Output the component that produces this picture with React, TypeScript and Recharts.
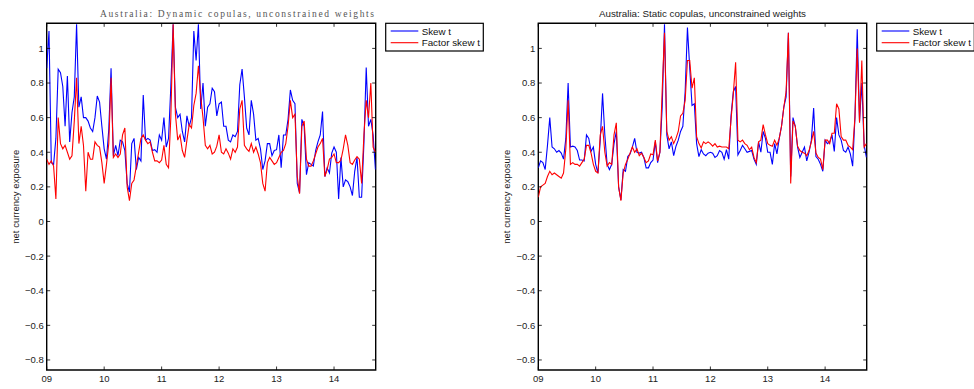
import { LineChart, Line, XAxis, YAxis, ReferenceArea } from 'recharts';

// time grid: 2-week steps starting Jan 2009
const START_YEAR = 2009;
const STEP = 0.04;
const X_MIN = 2009;
const X_MAX = 2014.725;
const Y_MIN = -0.858;
const Y_MAX = 1.145;

const yearTicks = [2009, 2010, 2011, 2012, 2013, 2014];
const yearLabels = ['09', '10', '11', '12', '13', '14'];
const yTicks = [-0.8, -0.6, -0.4, -0.2, 0, 0.2, 0.4, 0.6, 0.8, 1];

const seriesNames = ['Skew t', 'Factor skew t'];
const seriesColors = ['#0000ff', '#ff0000'];

const dynamicSkewT = [
  0.885, 1.1, 0.34, 0.33, 0.48, 0.88, 0.86, 0.78, 0.55, 0.84, 0.46, 0.63, 0.72, 1.14, 0.66, 0.72, 0.6, 0.6, 0.58, 0.54,
  0.52, 0.6, 0.725, 0.69, 0.55, 0.42, 0.36, 0.53, 0.885, 0.38, 0.44, 0.38, 0.47, 0.46, 0.41, 0.22, 0.17, 0.45, 0.48, 0.3,
  0.37, 0.35, 0.73, 0.47, 0.48, 0.47, 0.41, 0.415, 0.4, 0.5, 0.47, 0.6, 0.43, 0.48, 0.78, 1.14, 0.66, 0.6, 0.62, 0.52,
  0.46, 0.61, 0.55, 0.6, 1.1, 0.93, 1.14, 0.65, 0.8, 0.55, 0.66, 0.68, 0.77, 0.75, 0.61, 0.68, 0.69, 0.55, 0.55, 0.47,
  0.46, 0.5, 0.49, 0.52, 0.79, 0.88, 0.72, 0.54, 0.5, 0.7, 0.62, 0.47, 0.48, 0.42, 0.3, 0.35, 0.45, 0.45, 0.38, 0.41,
  0.415, 0.5, 0.31, 0.5, 0.5, 0.59, 0.76, 0.7, 0.68, 0.22, 0.165, 0.59, 0.55, 0.27, 0.34, 0.33, 0.32, 0.41, 0.46, 0.5,
  0.635, 0.26, 0.31, 0.28, 0.395, 0.43, 0.4, 0.13, 0.37, 0.2, 0.24, 0.23, 0.2, 0.15, 0.29, 0.37, 0.14, 0.14, 0.45, 0.89,
  0.55, 0.59, 0.5, 0.3,
];

const dynamicFactorSkewT = [
  0.36, 0.33, 0.35, 0.32, 0.13, 0.6, 0.45, 0.42, 0.44, 0.4, 0.36, 0.38, 0.58, 0.83, 0.45, 0.55, 0.44, 0.175, 0.4, 0.36,
  0.36, 0.46, 0.44, 0.43, 0.34, 0.22, 0.33, 0.45, 0.83, 0.37, 0.39, 0.37, 0.39, 0.5, 0.54, 0.2, 0.12, 0.22, 0.24, 0.32,
  0.4, 0.48, 0.5, 0.47, 0.45, 0.46, 0.4, 0.35, 0.35, 0.34, 0.355, 0.44, 0.33, 0.31, 0.6, 1.14, 0.62, 0.47, 0.5, 0.41,
  0.37, 0.47, 0.56, 0.54, 0.67, 0.74, 0.9, 0.72, 0.6, 0.44, 0.42, 0.44, 0.39, 0.4, 0.435, 0.5, 0.4, 0.39, 0.42, 0.395,
  0.36, 0.42, 0.4, 0.43, 0.65, 0.7, 0.44, 0.42, 0.405, 0.45, 0.4, 0.43, 0.39, 0.34, 0.22, 0.175, 0.34, 0.37, 0.35, 0.33,
  0.34, 0.37, 0.4, 0.41, 0.45, 0.55, 0.7, 0.6, 0.62, 0.26, 0.16, 0.55, 0.58, 0.36, 0.32, 0.32, 0.35, 0.39, 0.43, 0.45,
  0.48, 0.26, 0.3, 0.36, 0.37, 0.39, 0.34, 0.34, 0.355, 0.42, 0.5, 0.44, 0.34, 0.33, 0.355, 0.375, 0.36, 0.22, 0.5, 0.7,
  0.6, 0.8, 0.43, 0.4,
];

const staticSkewT = [
  0.31, 0.35, 0.34, 0.3, 0.44, 0.6, 0.43, 0.42, 0.4, 0.41, 0.395, 0.36, 0.48, 0.8, 0.43, 0.435, 0.43, 0.41, 0.355, 0.355,
  0.35, 0.5, 0.48, 0.405, 0.43, 0.33, 0.28, 0.47, 0.74, 0.5, 0.33, 0.3, 0.33, 0.45, 0.52, 0.2, 0.125, 0.3, 0.29, 0.375,
  0.39, 0.43, 0.48, 0.4, 0.395, 0.4, 0.37, 0.31, 0.31, 0.34, 0.355, 0.46, 0.34, 0.4, 0.66, 1.14, 0.5, 0.42, 0.46, 0.38,
  0.435, 0.47, 0.52, 0.55, 0.75, 1.12, 0.885, 0.67, 0.68, 0.45, 0.375, 0.415, 0.39, 0.38, 0.395, 0.4, 0.395, 0.37, 0.38, 0.41,
  0.4, 0.36, 0.415, 0.36, 0.61, 0.75, 0.78, 0.385, 0.41, 0.44, 0.42, 0.4, 0.405, 0.41, 0.36, 0.33, 0.46, 0.4, 0.52, 0.48,
  0.4, 0.4, 0.33, 0.45, 0.39, 0.48, 0.55, 0.66, 0.72, 1.09, 0.26, 0.6, 0.55, 0.43, 0.37, 0.4, 0.43, 0.35, 0.4, 0.47,
  0.655, 0.375, 0.36, 0.33, 0.29, 0.47, 0.45, 0.46, 0.5, 0.405, 0.6, 0.5, 0.47, 0.41, 0.4, 0.43, 0.39, 0.32, 0.6, 1.11,
  0.58, 0.8, 0.44, 0.37,
];

const staticFactorSkewT = [
  0.14, 0.2, 0.21, 0.22, 0.26, 0.29, 0.27, 0.28, 0.27, 0.26, 0.25, 0.28, 0.42, 0.7, 0.33, 0.34, 0.33, 0.33, 0.32, 0.34,
  0.36, 0.44, 0.44, 0.395, 0.33, 0.29, 0.28, 0.5, 0.55, 0.4, 0.32, 0.34, 0.33, 0.5, 0.57, 0.2, 0.12, 0.28, 0.33, 0.36,
  0.395, 0.43, 0.4, 0.42, 0.38, 0.395, 0.37, 0.34, 0.35, 0.39, 0.385, 0.47, 0.35, 0.4, 0.76, 1.09, 0.52, 0.47, 0.49, 0.45,
  0.48, 0.52, 0.61, 0.625, 0.7, 0.93, 0.93, 0.77, 0.83, 0.49, 0.45, 0.425, 0.46, 0.45, 0.46, 0.45, 0.435, 0.45, 0.43, 0.435,
  0.43, 0.43, 0.43, 0.42, 0.59, 0.74, 0.92, 0.47, 0.46, 0.47, 0.45, 0.44, 0.415, 0.43, 0.37, 0.34, 0.46, 0.47, 0.56, 0.5,
  0.45, 0.44, 0.435, 0.47, 0.44, 0.48, 0.55, 0.66, 0.75, 1.09, 0.22, 0.58, 0.55, 0.435, 0.41, 0.4, 0.395, 0.38, 0.41, 0.46,
  0.52, 0.395, 0.37, 0.36, 0.3, 0.47, 0.47, 0.45, 0.51, 0.51, 0.68, 0.65, 0.49, 0.47, 0.47, 0.44, 0.43, 0.415, 0.6, 1.0,
  0.57, 0.93, 0.43, 0.45,
];

const HEIGHT = 389;
const PLOT_TOP = 23.3;
const X_AXIS_H = 19;
const PLOT_BOTTOM = HEIGHT - X_AXIS_H;
const Y_AXIS_W = 30;
const TICK_MARGIN = 3;
const TICK_LEN = 3.5;
const FONT = '"Liberation Sans", Arial, Helvetica, sans-serif';

const fmtY = (v: number) => {
  const s = String(Math.round(v * 10) / 10);
  return s.startsWith('-') ? '\u2212' + s.slice(1) : s;
};

function Panel({ left, width, plotLeft, plotRight, skew, factor }: any) {
  const rows = skew.map((v: number, i: number) => ({
    t: START_YEAR + i * STEP,
    skew: v,
    factor: factor[i],
  }));
  const plotW = plotRight - plotLeft;
  const plotH = PLOT_BOTTOM - PLOT_TOP;

  const YTick = (p: any) => {
    const edge = p.x + TICK_MARGIN;
    return (
      <g>
        <line x1={edge} x2={edge + TICK_LEN} y1={p.y} y2={p.y} stroke="#000" strokeWidth={0.8} />
        <line x1={edge + plotW} x2={edge + plotW - TICK_LEN} y1={p.y} y2={p.y} stroke="#000" strokeWidth={0.8} />
        <text x={p.x} y={p.y + 3.4} textAnchor="end" fontSize={9.5} fontFamily={FONT} fill="#222">
          {fmtY(p.payload.value)}
        </text>
      </g>
    );
  };

  const XTick = (p: any) => {
    const edge = p.y - TICK_MARGIN;
    const idx = yearTicks.indexOf(p.payload.value);
    return (
      <g>
        <line x1={p.x} x2={p.x} y1={edge} y2={edge - TICK_LEN} stroke="#000" strokeWidth={0.8} />
        <line x1={p.x} x2={p.x} y1={edge - plotH} y2={edge - plotH + TICK_LEN} stroke="#000" strokeWidth={0.8} />
        <text x={p.x} y={edge + 11.7} textAnchor="middle" fontSize={9.5} fontFamily={FONT} fill="#222">
          {yearLabels[idx]}
        </text>
      </g>
    );
  };

  return (
    <div style={{ position: 'absolute', left, top: 0 }}>
      <LineChart
        width={width}
        height={HEIGHT}
        data={rows}
        margin={{ top: PLOT_TOP, right: width - plotRight, bottom: 0, left: plotLeft - Y_AXIS_W }}
      >
        <XAxis
          dataKey="t"
          type="number"
          domain={[X_MIN, X_MAX]}
          ticks={yearTicks}
          allowDataOverflow
          height={X_AXIS_H}
          tickLine={false}
          axisLine={false}
          tickSize={0}
          tickMargin={TICK_MARGIN}
          tick={XTick}
        />
        <YAxis
          type="number"
          domain={[Y_MIN, Y_MAX]}
          ticks={yTicks}
          allowDataOverflow
          width={Y_AXIS_W}
          tickLine={false}
          axisLine={false}
          tickSize={0}
          tickMargin={TICK_MARGIN}
          tick={YTick}
        />
        <ReferenceArea
          x1={X_MIN}
          x2={X_MAX}
          y1={Y_MIN}
          y2={Y_MAX}
          fill="none"
          fillOpacity={0}
          stroke="#000"
          strokeWidth={1.4}
          ifOverflow="visible"
        />
        <Line
          type="linear"
          dataKey="skew"
          stroke={seriesColors[0]}
          strokeWidth={1.1}
          dot={false}
          isAnimationActive={false}
        />
        <Line
          type="linear"
          dataKey="factor"
          stroke={seriesColors[1]}
          strokeWidth={1.1}
          dot={false}
          isAnimationActive={false}
        />
      </LineChart>
    </div>
  );
}

function LegendBox({ x, y }: { x: number; y: number }) {
  return (
    <g>
      <rect x={x} y={y} width={97.6} height={27.7} fill="#fff" stroke="#000" strokeWidth={1.2} />
      {seriesNames.map((name, i) => {
        const ly = y + 7.7 + i * 11.7;
        return (
          <g key={name}>
            <line x1={x + 5} x2={x + 32.6} y1={ly} y2={ly} stroke={seriesColors[i]} strokeWidth={1.1} />
            <text x={x + 36} y={ly + 3.5} fontSize={9.8} fontFamily={FONT} fill="#111">
              {name}
            </text>
          </g>
        );
      })}
    </g>
  );
}

export default function App() {
  return (
    <div style={{ position: 'absolute', left: 0, top: 0, width: 974, height: HEIGHT, background: '#fff', overflow: 'hidden' }}>
      <Panel left={0} width={490} plotLeft={46.7} plotRight={375.7} skew={dynamicSkewT} factor={dynamicFactorSkewT} />
      <Panel left={490} width={484} plotLeft={48.3} plotRight={376.7} skew={staticSkewT} factor={staticFactorSkewT} />
      <svg
        width={974}
        height={HEIGHT}
        style={{ position: 'absolute', left: 0, top: 0, pointerEvents: 'none' }}
      >
        <text
          x={237}
          y={17}
          textAnchor="middle"
          fontSize={9.5}
          fontFamily='"Liberation Serif", "DejaVu Serif", serif'
          fill="#555"
          textLength={274}
          lengthAdjust="spacing"
        >
          Australia: Dynamic copulas, unconstrained weights
        </text>
        <text
          x={702.5}
          y={16.5}
          textAnchor="middle"
          fontSize={9.8}
          fontFamily={FONT}
          fill="#222"
          textLength={207}
          lengthAdjust="spacing"
        >
          Australia: Static copulas, unconstrained weights
        </text>
        <text
          transform="translate(18.5,196.7) rotate(-90)"
          textAnchor="middle"
          fontSize={9.5}
          fontFamily={FONT}
          fill="#222"
        >
          net currency exposure
        </text>
        <text
          transform="translate(510,196.7) rotate(-90)"
          textAnchor="middle"
          fontSize={9.5}
          fontFamily={FONT}
          fill="#222"
        >
          net currency exposure
        </text>
        <LegendBox x={385.7} y={23.3} />
        <LegendBox x={876.7} y={23.3} />
      </svg>
    </div>
  );
}
